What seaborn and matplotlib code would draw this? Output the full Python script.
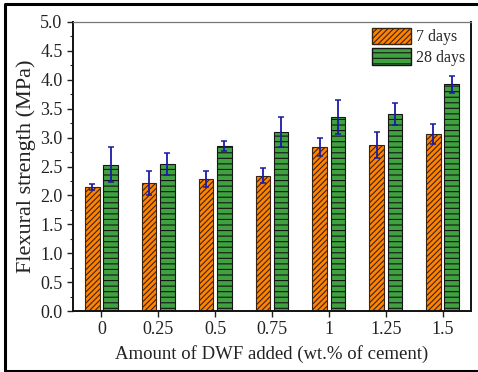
import matplotlib
matplotlib.use("Agg")
import matplotlib.pyplot as plt
from matplotlib.lines import Line2D
from matplotlib.ticker import MultipleLocator, FormatStrFormatter
import numpy as np
import pandas as pd
import seaborn as sns

# DWF dosage levels (wt.% of cement)
dosages = ["0", "0.25", "0.5", "0.75", "1", "1.25", "1.5"]
ages = ["7 days", "28 days"]

# Mean flexural strength (MPa) and standard deviation per age
strength_7d = [2.15, 2.21, 2.28, 2.34, 2.84, 2.87, 3.06]
strength_28d = [2.53, 2.55, 2.85, 3.09, 3.36, 3.41, 3.92]
err_7d = [0.05, 0.21, 0.14, 0.13, 0.15, 0.22, 0.17]
err_28d = [0.30, 0.19, 0.09, 0.26, 0.29, 0.19, 0.14]

df = pd.DataFrame({
    "dosage": dosages * 2,
    "age": [ages[0]] * len(dosages) + [ages[1]] * len(dosages),
    "strength": strength_7d + strength_28d,
    "err": err_7d + err_28d,
})

sns.set_style("ticks")
plt.rcParams["font.family"] = ["Liberation Serif", "DejaVu Serif"]
plt.rcParams["hatch.linewidth"] = 0.8

fig = plt.figure(figsize=(4.78, 3.72), dpi=100)
ax = fig.add_axes([73 / 478, 1 - 311 / 372, 398 / 478, 289 / 372])

palette = {"7 days": "#FF8200", "28 days": "#3FA13F"}
sns.barplot(data=df, x="dosage", y="strength", hue="age", order=dosages,
            hue_order=ages, palette=palette, width=0.64, gap=0.2,
            errorbar=None, saturation=1, ax=ax, legend=True)

styles = {"7 days": ("//////", "#3a2412"), "28 days": ("---", "#151515")}
for container, age in zip(ax.containers, ages):
    hatch, ec = styles[age]
    sub = df[df["age"] == age]
    for bar, e in zip(container, sub["err"]):
        bar.set_hatch(hatch)
        bar.set_edgecolor(ec)
        bar.set_linewidth(0.8)
        xc = bar.get_x() + bar.get_width() / 2
        ax.errorbar(xc, bar.get_height(), yerr=e, fmt="none",
                    ecolor="#1a1aa8", elinewidth=1.3, capsize=2.5,
                    capthick=1.1, zorder=5)

ax.set_ylim(0, 5)
ax.set_xlim(-0.5, 6.5)
ax.yaxis.set_major_locator(MultipleLocator(0.5))
ax.yaxis.set_minor_locator(MultipleLocator(0.25))
ax.yaxis.set_major_formatter(FormatStrFormatter("%.1f"))
ax.tick_params(axis="both", which="major", direction="out", length=4,
               width=1.0, labelsize=13, colors="#222222")
ax.tick_params(axis="y", which="minor", direction="out", length=2, width=0.8)
for side in ["left", "bottom", "right"]:
    ax.spines[side].set_color("#111111")
    ax.spines[side].set_linewidth(1.4)
ax.spines["top"].set_color("#777777")
ax.spines["top"].set_linewidth(0.9)
ax.spines["right"].set_visible(True)
ax.spines["top"].set_visible(True)

ax.set_xlabel("Amount of DWF added (wt.% of cement)", fontsize=13.5,
              color="#222222", labelpad=5)
ax.set_ylabel("Flexural strength (MPa)", fontsize=16, color="#222222",
              labelpad=3)

leg = ax.legend(loc="upper right", frameon=False, fontsize=11.5,
                handlelength=2.45, handleheight=1.2, handletextpad=0.3,
                borderaxespad=0.1, borderpad=0.25, labelspacing=0.2)
for h, age in zip(leg.legend_handles, ages):
    h.set_hatch(styles[age][0])
    h.set_edgecolor(styles[age][1])

# Outer frame: top, left and bottom edges of the figure border
frame_kw = dict(transform=fig.transFigure, color="black", linewidth=2.2)
x0, x1 = 5 / 478, 1.01
y0, y1 = 1 - 371 / 372, 1 - 4 / 372
fig.lines.append(Line2D([x1, x0, x0, x1], [y1, y1, y0, y0], **frame_kw))

fig.savefig("out.png", dpi=100)
